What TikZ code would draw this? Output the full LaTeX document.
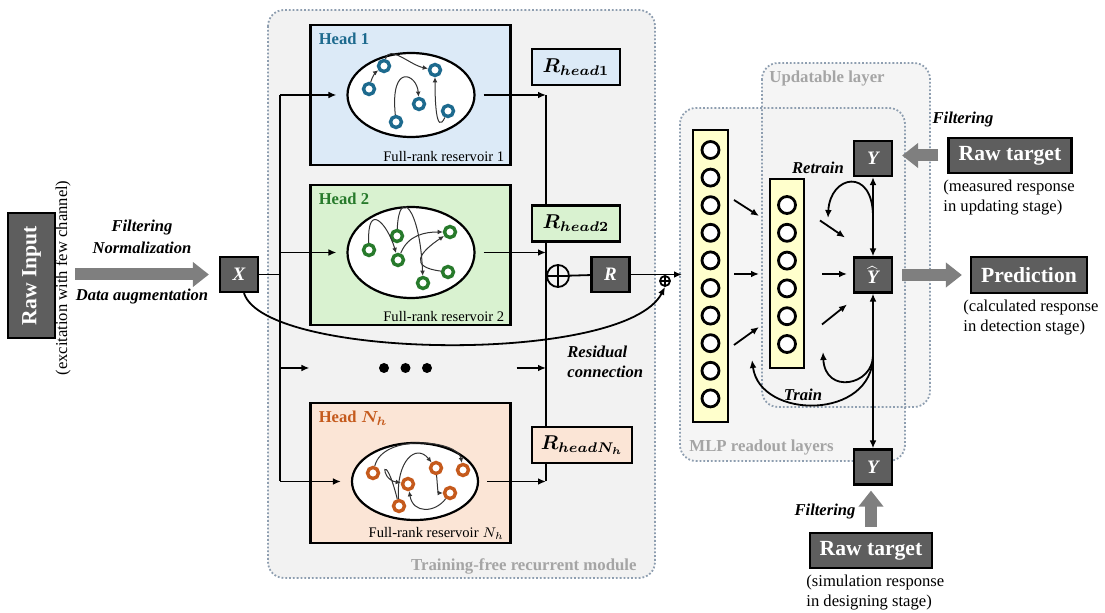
\documentclass[tikz,border=0pt]{standalone}
\usepackage{fontspec}
\setmainfont{Liberation Serif}
\usepackage{amsmath,bm}
\usetikzlibrary{arrows.meta,positioning,calc,shapes.geometric}
\definecolor{boxgray}{HTML}{5E5E5E}
\definecolor{fatgray}{HTML}{7F7F7F}
\definecolor{panelgray}{HTML}{F2F2F2}
\definecolor{framegray}{HTML}{8E9EB0}
\definecolor{titlegray}{HTML}{A5A5A5}
\definecolor{head1fill}{HTML}{DCEAF7}
\definecolor{head1ink}{HTML}{1D6A8E}
\definecolor{head2fill}{HTML}{D9F2D0}
\definecolor{head2ink}{HTML}{277A2B}
\definecolor{headnfill}{HTML}{FBE5D6}
\definecolor{headnink}{HTML}{C55A1C}
\definecolor{layerfill}{HTML}{FFFFCC}

\tikzset{
  panel/.style={draw=framegray,densely dotted,line width=0.9pt,rounded corners=8pt,fill=panelgray},
  paneltitle/.style={text=titlegray,font=\bfseries\fontsize{8.4}{10}\selectfont,inner sep=0pt},
  darkbox/.style={draw,line width=1.1pt,fill=boxgray,text=white,inner sep=0pt},
  varbox/.style={darkbox,minimum width=19pt,minimum height=17.5pt,font=\bfseries\itshape\fontsize{9.5}{10}\selectfont},
  bigbox/.style={darkbox,font=\bfseries\fontsize{10.8}{12}\selectfont},
  headbox/.style={draw,line width=1.1pt,minimum width=100pt,minimum height=70pt,inner sep=0pt},
  headtitle/.style={font=\bfseries\fontsize{8.3}{10}\selectfont,anchor=north west,inner sep=0pt},
  reservoir/.style={ellipse,draw,line width=1.1pt,fill=white,inner sep=0pt},
  resname/.style={font=\fontsize{7.3}{9}\selectfont,anchor=south east,inner sep=0pt},
  ring/.style={circle,draw=#1,fill=white,line width=1.7pt,minimum size=5.5pt,inner sep=0pt},
  neuron/.style={circle,draw,fill=white,line width=1.4pt,minimum size=8.5pt,inner sep=0pt},
  mlpcol/.style={draw,line width=1pt,fill=layerfill,inner sep=0pt},
  rhead/.style={draw,line width=1.1pt,minimum width=44pt,minimum height=18pt,inner sep=0pt,font=\fontsize{10}{11}\selectfont},
  cue/.style={font=\bfseries\itshape\fontsize{8.3}{10}\selectfont,inner sep=0pt},
  note/.style={font=\fontsize{8.3}{10}\selectfont,align=left,inner sep=0pt},
  arr/.style={line width=0.9pt,-{Latex[length=4pt,width=3.4pt]}},
  twoway/.style={line width=0.9pt,{Latex[length=4pt,width=3.4pt]}-{Latex[length=4pt,width=3.4pt]}},
  wire/.style={line width=0.5pt,draw=black!80,-{Latex[length=2.6pt,width=2.4pt]}},
  fat/.style={draw=fatgray,line width=6pt,-{Triangle[length=8pt,width=12pt]}},
  oplus/.style={circle,draw,line width=0.9pt,minimum size=#1,inner sep=0pt,
    path picture={\draw[line width=0.7pt] (path picture bounding box.north) -- (path picture bounding box.south)
      (path picture bounding box.west) -- (path picture bounding box.east);}},
}

\begin{document}
\begin{tikzpicture}[x=0.5pt,y=-0.5pt]
  \useasboundingbox (0,0) rectangle (1105,613);

  % grey panels
  \draw[panel] (268,10) rectangle (655,578);
  \path[panel,draw=none,fill opacity=0.75] (762,63) rectangle (930,407);
  \path[panel,draw=none,fill opacity=0.75] (680,108) rectangle (905,461);
  \draw[panel,fill=none] (762,63) rectangle (930,407);
  \draw[panel,fill=none] (680,108) rectangle (905,461);
  \node[paneltitle,anchor=east] at (637,566) {Training-free recurrent module};
  \node[paneltitle,anchor=west] at (689,447) {MLP readout layers};
  \node[paneltitle,anchor=west] at (769,78) {Updatable layer};

  % input side
  \node[bigbox,rotate=90,minimum width=62.5pt,minimum height=23.5pt] (rawin) at (31.5,275.5) {Raw Input};
  \node[note,rotate=90] (rawnote) at (63,278) {(excitation with few channel)};
  \node[varbox] (xin) at (239,274.5) {X};
  \draw[fat,shorten <=2pt,shorten >=5pt] (rawnote.south |- xin.west) -- (xin.west);
  \node[cue] at (142,228) {Filtering};
  \node[cue] at (142,248) {Normalization};
  \node[cue] at (142,297) {Data augmentation};

  % heads
  \node[headbox,fill=head1fill] (head1) at (410.5,95) {};
  \node[headtitle,text=head1ink] at ($(head1.north west)+(9,9)$) {Head 1};
  \node[reservoir,minimum width=63.5pt,minimum height=42pt] (res1) at (411,95) {};
  \node[resname] at ($(head1.south east)+(-7,-4)$) {Full-rank reservoir 1};

  \node[headbox,fill=head2fill] (head2) at (410.5,255) {};
  \node[headtitle,text=head2ink] at ($(head2.north west)+(9,9)$) {Head 2};
  \node[reservoir,minimum width=63.5pt,minimum height=45.5pt] (res2) at (411,252.5) {};
  \node[resname] at ($(head2.south east)+(-7,-4)$) {Full-rank reservoir 2};

  \node[headbox,fill=headnfill] (headn) at (410.5,473) {};
  \node[headtitle,text=headnink] at ($(headn.north west)+(9,9)$) {Head $\bm{N_h}$};
  \node[reservoir,minimum width=63pt,minimum height=38.5pt] (resn) at (415,481.5) {};
  \node[resname] at ($(headn.south east)+(-7,-4)$) {Full-rank reservoir $N_h$};

  % reservoir 1
  \foreach \n/\x/\y in {1/369/89,2/384/66,3/435/70,4/419/104,5/448/111,6/396/122}
    \node[ring=head1ink] (a\n) at (\x,\y) {};
  \draw[wire] (a1) .. controls +(3,-12) and +(-8,6) .. (a2);
  \draw[wire] (a2) .. controls +(5,-22) and +(-25,-5) .. (a3);
  \draw[wire] (a6) .. controls +(-6,-60) and +(-2,-30) .. (a4);
  \draw[wire] (a5) .. controls +(-12,25) and +(0,30) .. (a3);

  % reservoir 2
  \foreach \n/\x/\y in {1/369/250,2/397/236,3/450/232,4/398/260,5/448/272,6/423/283}
    \node[ring=head2ink] (b\n) at (\x,\y) {};
  \draw[wire] (b1) .. controls +(-2,-50) and +(-10,-35) .. (b4);
  \draw[wire] (b2) .. controls +(2,-50) and +(-3,-75) .. (b6);
  \draw[wire] (b4) .. controls +(10,-25) and +(-25,0) .. (b3);
  \draw[wire] (b5) .. controls +(-40,-5) and +(-30,20) .. (b3);

  % reservoir N_h
  \foreach \n/\x/\y in {1/373/473,2/408/484,3/436/468,4/463/470,5/450/493,6/399/506}
    \node[ring=headnink] (c\n) at (\x,\y) {};
  \draw[wire] (c6) .. controls +(-15,-60) and +(-30,-5) .. (c2);
  \draw[wire] (c1) .. controls +(10,-40) and +(-5,-30) .. (c4);
  \draw[wire] (c5) .. controls +(-15,20) and +(5,30) .. (c2);
  \draw[wire] (c3) .. controls +(2,25) and +(-12,0) .. (c5);
  \draw[wire] (c6) .. controls +(-3,-45) and +(-20,-25) .. (c3);

  % fan-out to the heads
  \coordinate (lbus) at (280,274.5);
  \coordinate (rbus) at (546,276);
  \draw[line width=0.9pt] (xin) -- (lbus);
  \draw[line width=0.9pt] (lbus |- res1) -- (lbus |- resn);
  \foreach \r in {res1,res2,resn}{
    \draw[arr,shorten >=5pt] (lbus |- \r) -- (\r.west);
    \draw[arr,shorten <=4pt] (\r.east) -- (rbus |- \r);
  }
  \foreach \n/\x in {1/384,2/405.5,3/427}
    \node[circle,fill,inner sep=0pt,minimum size=5pt] (dot\n) at (\x,368) {};
  \draw[arr] (lbus |- dot1) -- (head1.west |- dot1);
  \draw[arr,shorten <=2.5pt] (head1.east |- dot3) -- (rbus |- dot3);
  \draw[line width=0.9pt] (rbus |- res1) -- (rbus |- resn);

  % head outputs and sum
  \node[rhead,fill=head1fill] (rh1) at (576,67) {$\bm{R_{head1}}$};
  \node[rhead,fill=head2fill] (rh2) at (576,223.5) {$\bm{R_{head2}}$};
  \node[rhead,fill=headnfill,minimum width=50pt] (rhn) at (582,445) {$\bm{R_{headN_h}}$};
  \node[oplus=11pt] (sum) at (558,276) {};
  \node[varbox] (rbox) at (610.5,274.5) {R};
  \draw[line width=0.9pt] (sum) -- (rbox);

  % MLP readout
  \node[mlpcol,minimum width=17.5pt,minimum height=146pt] (mlpa) at (710.5,276) {};
  \node[mlpcol,minimum width=17pt,minimum height=94.5pt] (mlpb) at (787,273.5) {};
  \foreach \i in {0,...,9}
    \node[neuron] (ua\i) at (710.5,{150+27.6*\i}) {};
  \foreach \i in {0,...,5}
    \node[neuron] (ub\i) at (787,{205+27.8*\i}) {};
  \draw[arr,shorten >=5pt] (rbox) -- (mlpa.west |- rbox);
  \node[oplus=5pt] (ressum) at (665,281) {};

  % residual path
  \draw[arr] ($(xin.south)+(5,0)$) .. controls (265,360) and (625,365) .. (ressum.south);
  \node[cue,anchor=west] at (567,352) {Residual};
  \node[cue,anchor=west] at (567,372) {connection};

  \draw[arr] ($(mlpa.east)+(5,-76)$) -- +(25,16);
  \draw[arr] ($(mlpa.east)+(5,-2)$) -- +(25,0);
  \draw[arr] ($(mlpa.east)+(5,69)$) -- +(25,-18);
  \draw[arr] ($(mlpb.east)+(15,-53)$) -- +(25,17);
  \draw[arr] ($(mlpb.east)+(17,0.5)$) -- +(25,0);
  \draw[arr] ($(mlpb.east)+(17,51)$) -- +(25,-20);

  % targets and prediction
  \node[varbox] (yup) at (873,158.5) {Y};
  \node[varbox] (yhat) at (873,275) {$\widehat{\text{\bfseries\itshape Y}}$};
  \node[varbox] (ydown) at (873,467) {Y};
  \draw[twoway] (yup) -- (yhat);
  \draw[twoway] (yhat) -- (ydown);

  \coordinate (upmid) at ($(yup.south)!0.5!(yhat.north)$);
  \coordinate (downmid) at ($(yhat.south)!0.4!(ydown.north)$);
  \coordinate (retrainend) at (828,218);
  \coordinate (trainb) at (823,352);
  \coordinate (traina) at (752,360);
  \draw[arr] (upmid) .. controls +(0,-50) and +(2,-43) .. (retrainend);
  \draw[arr] (downmid) .. controls +(0,30) and +(2,43) .. (trainb);
  \draw[arr] (downmid) .. controls +(0,65) and +(8,60) .. (traina);
  \node[cue] at (818,168) {Retrain};
  \node[cue] at (803,395) {Train};

  \node[bigbox,minimum width=61.5pt,minimum height=17.5pt] (tgtup) at (1010,155.5) {Raw target};
  \node[note,anchor=north west] (tgtupnote) at (943,180) {(measured response\\in updating stage)};
  \draw[fat,shorten <=4.5pt,shorten >=4.5pt] (tgtup.west) -- (tgtup.west -| yup.east);
  \node[cue] at (963,120) {Filtering};

  \node[bigbox,minimum width=58pt,minimum height=18pt] (pred) at (1029,275) {Prediction};
  \node[note,anchor=north west] (prednote) at (963,300) {(calculated response\\in detection stage)};
  \draw[fat,shorten <=4.5pt,shorten >=4pt] (yhat.east) -- (pred.west);

  \node[bigbox,minimum width=61pt,minimum height=17.5pt] (tgtdown) at (871,550.5) {Raw target};
  \node[note,anchor=north west] (tgtdownnote) at (806,575) {(simulation response\\in designing stage)};
  \draw[fat,shorten <=2.5pt,shorten >=2.5pt] (tgtdown.north) -- (tgtdown.north |- ydown.south);
  \node[cue] at (825,512) {Filtering};
\end{tikzpicture}
\end{document}
